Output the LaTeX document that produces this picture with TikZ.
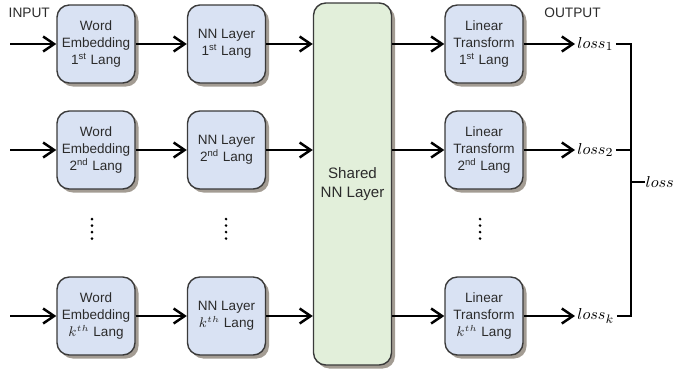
\documentclass[tikz,border=0pt]{standalone}
\usepackage{fontspec}
\setmainfont{Liberation Sans}
\usetikzlibrary{arrows.meta, positioning, shadows}
\definecolor{cbox}{HTML}{D9E2F3}
\definecolor{cshared}{HTML}{E2EFDA}
\definecolor{cedge}{HTML}{3A3A3A}
\definecolor{cshade}{HTML}{A39C93}
\definecolor{ctext}{HTML}{2B2B2B}
\tikzset{
  every picture/.style={line width=0.8pt},
  layer/.style={draw=cedge, fill=#1, rounded corners=7pt, align=center, inner sep=0pt,
    minimum width=1.56cm, minimum height=1.56cm, text=ctext,
    font=\fontsize{7.7}{9.6}\selectfont,
    drop shadow={shadow xshift=0.07cm, shadow yshift=-0.07cm, fill=cshade, opacity=1}},
  layer/.default=cbox,
  flow/.style={-{Straight Barb[length=2.2mm, width=3mm]}, line width=1.4pt, black},
  lossval/.style={font=\fontsize{9.5}{11}\selectfont, inner sep=1pt},
  header/.style={font=\fontsize{7.8}{9}\selectfont, text=ctext, inner sep=0pt},
}

\begin{document}
\begin{tikzpicture}
  \useasboundingbox (0,0) rectangle (13.52,-7.5);
  % headers
  \node[header, anchor=west] (input) at (0.16,-0.25) {INPUT};
  \node[header] (output) at (11.45,-0.25) {OUTPUT};
  % row 1
  \node[layer] (we1) at (1.92,-0.88) {Word\\Embedding\\1\textsuperscript{st} Lang};
  \node[layer] (nn1) at (4.53,-0.88) {NN Layer\\1\textsuperscript{st} Lang};
  \node[layer] (lt1) at (9.68,-0.88) {Linear\\Transform\\1\textsuperscript{st} Lang};
  % row 2
  \node[layer] (we2) at (1.92,-3.0) {Word\\Embedding\\2\textsuperscript{nd} Lang};
  \node[layer] (nn2) at (4.53,-3.0) {NN Layer\\2\textsuperscript{nd} Lang};
  \node[layer] (lt2) at (9.68,-3.0) {Linear\\Transform\\2\textsuperscript{nd} Lang};
  % row k
  \node[layer] (wek) at (1.92,-6.32) {Word\\Embedding\\$k^{th}$ Lang};
  \node[layer] (nnk) at (4.53,-6.32) {NN Layer\\$k^{th}$ Lang};
  \node[layer] (ltk) at (9.68,-6.32) {Linear\\Transform\\$k^{th}$ Lang};
  % shared layer
  \node[layer=cshared, minimum height=7.24cm, font=\fontsize{8.6}{11}\selectfont] (shared) at (7.05,-3.68) {Shared\\NN Layer};
  % dots
  \foreach \x in {1.84,4.52,9.6}
    \foreach \k in {0,...,3}
      \fill (\x,-4.38-\k*0.13) circle (0.85pt);
  % losses
  \node[lossval, anchor=west] (loss1) at (11.5,-0.88) {$loss_1$};
  \node[lossval, anchor=west] (loss2) at (11.5,-3.0) {$loss_2$};
  \node[lossval, anchor=west] (lossk) at (11.5,-6.32) {$loss_k$};
  \coordinate (join) at (12.62,-3.64);
  \node[lossval, anchor=west, inner sep=0pt] (loss) at (12.9,-3.64) {$loss$};
  % arrows
  \foreach \r in {1,2,k} {
    \coordinate (in\r) at (0.2,0 |- we\r);
    \draw[flow] (in\r) -- (we\r);
    \draw[flow] (we\r) -- (nn\r);
    \draw[flow] (nn\r) -- (nn\r -| shared.west);
    \draw[flow] (shared.east |- lt\r) -- (lt\r);
    \draw[flow] (lt\r) -- (loss\r);
  }
  % sum of losses
  \draw[line width=0.6pt] (loss1.east) -| (join) |- (lossk.east);
  \draw[line width=0.6pt] (loss2.east) -- (loss2.east -| join);
  \draw[line width=0.6pt] (join) -- (loss.west);
\end{tikzpicture}
\end{document}
